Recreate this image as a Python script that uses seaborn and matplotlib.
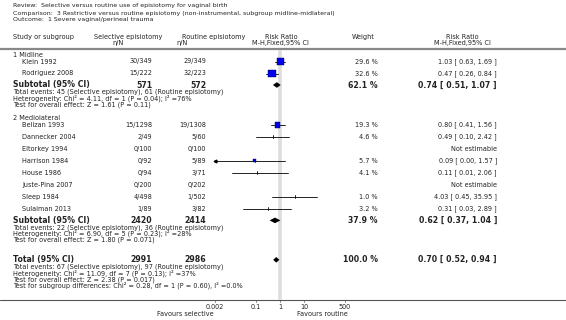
import numpy as np
import pandas as pd
import matplotlib
matplotlib.use("Agg")
import matplotlib.pyplot as plt
import seaborn as sns
from matplotlib.lines import Line2D

sns.set_theme(style="white")
plt.rcParams['font.family'] = ['DejaVu Sans']

# ---------------- data ----------------
review = "Review:  Selective versus routine use of episiotomy for vaginal birth"
comparison = "Comparison:  3 Restrictive versus routine episiotomy (non-instrumental, subgroup midline-midlateral)"
outcome = "Outcome:  1 Severe vaginal/perineal trauma"

groups = ["1 Midline", "2 Mediolateral"]
study_group = [0, 0, 1, 1, 1, 1, 1, 1, 1, 1]
studies = ["Klein 1992", "Rodriguez 2008", "Belizan 1993", "Dannecker 2004", "Eltorkey 1994",
           "Harrison 1984", "House 1986", "Juste-Pina 2007", "Sleep 1984", "Sulaiman 2013"]
sel_nN = ["30/349", "15/222", "15/1298", "2/49", "0/100", "0/92", "0/94", "0/200", "4/498", "1/89"]
rou_nN = ["29/349", "32/223", "19/1308", "5/60", "0/100", "5/89", "3/71", "0/202", "1/502", "3/82"]
nan = np.nan
weights = [29.6, 32.6, 19.3, 4.6, nan, 5.7, 4.1, nan, 1.0, 3.2]
rr = [1.03, 0.47, 0.80, 0.49, nan, 0.09, 0.11, nan, 4.03, 0.31]
ci_lo = [0.63, 0.26, 0.41, 0.10, nan, 0.00, 0.01, nan, 0.45, 0.03]
ci_hi = [1.69, 0.84, 1.56, 2.42, nan, 1.57, 2.06, nan, 35.95, 2.89]

sub_n_sel = [571, 2420]
sub_n_rou = [572, 2414]
sub_weight = [62.1, 37.9]
sub_rr = [0.74, 0.62]
sub_lo = [0.51, 0.37]
sub_hi = [1.07, 1.04]
sub_events = ["Total events: 45 (Selective episiotomy), 61 (Routine episiotomy)",
              "Total events: 22 (Selective episiotomy), 36 (Routine episiotomy)"]
sub_het = ["Heterogeneity: Chi² = 4.11, df = 1 (P = 0.04); I² =76%",
           "Heterogeneity: Chi² = 6.90, df = 5 (P = 0.23); I² =28%"]
sub_test = ["Test for overall effect: Z = 1.61 (P = 0.11)",
            "Test for overall effect: Z = 1.80 (P = 0.071)"]

tot_n_sel, tot_n_rou = 2991, 2986
tot_weight = 100.0
tot_rr, tot_lo, tot_hi = 0.70, 0.52, 0.94
tot_lines = ["Total events: 67 (Selective episiotomy), 97 (Routine episiotomy)",
             "Heterogeneity: Chi² = 11.09, df = 7 (P = 0.13); I² =37%",
             "Test for overall effect: Z = 2.38 (P = 0.017)",
             "Test for subgroup differences: Chi² = 0.28, df = 1 (P = 0.60), I² =0.0%"]

tick_vals = [0.002, 0.1, 1, 10, 500]
tick_labels = ["0.002", "0.1", "1", "10", "500"]
fav_left, fav_right = "Favours selective", "Favours routine"

# ---------------- layout ----------------
W, H = 566, 320
fig = plt.figure(figsize=(W / 100, H / 100), dpi=100)
bg = fig.add_axes([0, 0, 1, 1])
bg.set_xlim(0, W); bg.set_ylim(H, 0); bg.axis("off")

FX0, FX1 = 215, 345
fa = fig.add_axes([FX0 / W, 0, (FX1 - FX0) / W, 1])
fa.set_xscale("log"); fa.set_xlim(tick_vals[0], tick_vals[-1])
fa.set_ylim(H, 0); fa.axis("off"); fa.patch.set_alpha(0)

TXT = "#222222"
fs, fsb = 4.7, 5.6
X_L, X_S, X_SEL, X_ROU, X_W, X_RR = 13, 22, 152, 206, 378, 497

def t(x, y, s, ha="left", size=fs, weight="normal", color=TXT):
    bg.text(x, y, s, ha=ha, va="center", fontsize=size, fontweight=weight, color=color)

t(X_L, 6, review, size=4.5)
t(X_L, 13, comparison, size=4.5)
t(X_L, 20, outcome, size=4.5)
t(X_L, 37, "Study or subgroup")
t(94, 37, "Selective episiotomy")
t(182, 37, "Routine episiotomy")
t(118, 43, "n/N", ha="center")
t(182, 43, "n/N", ha="center")
t(281, 37, "Risk Ratio", ha="center")
t(280, 43, "M-H,Fixed,95% CI", ha="center")
t(363, 37, "Weight", ha="center")
t(462, 37, "Risk Ratio", ha="center")
t(462, 43, "M-H,Fixed,95% CI", ha="center")
bg.add_line(Line2D([0, W], [48.5, 48.5], color="#888888", lw=1.6))

# compute row positions
rows_y = [None] * len(studies)
sub_y = []
sum_y = []
y = 55
for g in range(len(groups)):
    t(X_L, y, groups[g])
    idx = [i for i, sg in enumerate(study_group) if sg == g]
    yy = y + 6.5
    for i in idx:
        rows_y[i] = yy
        yy += 12
    ys = yy - 12 + 11.5
    sub_y.append(ys)
    sum_y.append([ys + 7 + 6.2 * k for k in range(3)])
    y = sum_y[-1][-1] + 14
tot_y = sum_y[-1][-1] + 20
tot_line_y = [tot_y + 7 + 6.3 * k for k in range(4)]
AX_Y = 300

# null line
fa.plot([1, 1], [50, AX_Y], color="#dddddd", lw=2.6, zorder=0, solid_capstyle="butt")

# study rows
for i, s in enumerate(studies):
    yv = rows_y[i]
    t(X_S, yv, s)
    t(X_SEL, yv, sel_nN[i], ha="right")
    t(X_ROU, yv, rou_nN[i], ha="right")
    if np.isnan(rr[i]):
        t(X_RR, yv, "Not estimable", ha="right")
        continue
    t(X_W, yv, f"{weights[i]:.1f} %", ha="right")
    t(X_RR, yv, f"{rr[i]:.2f} [ {ci_lo[i]:.2f}, {ci_hi[i]:.2f} ]", ha="right")
    lo_c = max(ci_lo[i], tick_vals[0])
    fa.plot([lo_c, ci_hi[i]], [yv, yv], color="black", lw=0.6, zorder=2)
    fa.plot([rr[i], rr[i]], [yv - 1.5, yv + 1.5], color="black", lw=0.6, zorder=2)
    if ci_lo[i] < tick_vals[0]:
        fa.plot([lo_c], [yv], marker="<", ms=2, color="black", zorder=3, clip_on=False)

df = pd.DataFrame({"rr": rr, "y": rows_y, "w": weights}).dropna()
df = df[df["w"] > 5]
sns.scatterplot(data=df, x="rr", y="y", size="w", sizes=(0, 30), size_norm=(0, 35),
                marker="s", color="#0000ee", edgecolor="#000033", linewidth=0.3,
                legend=False, ax=fa, zorder=4, clip_on=False)
fa.set_xlim(tick_vals[0], tick_vals[-1]); fa.set_ylim(H, 0); fa.axis("off")

def diamond(yv, m, lo, hi, h=2.8):
    fa.fill([lo, m, hi, m], [yv, yv - h, yv, yv + h], color="black", zorder=4, lw=0)

for g in range(len(groups)):
    ys = sub_y[g]
    t(X_L, ys, "Subtotal (95% CI)", size=fsb, weight="bold")
    t(X_SEL, ys, f"{sub_n_sel[g]}", ha="right", size=fsb, weight="bold")
    t(X_ROU, ys, f"{sub_n_rou[g]}", ha="right", size=fsb, weight="bold")
    t(X_W, ys, f"{sub_weight[g]:.1f} %", ha="right", size=fsb, weight="bold")
    t(X_RR, ys, f"{sub_rr[g]:.2f} [ {sub_lo[g]:.2f}, {sub_hi[g]:.2f} ]", ha="right", size=fsb, weight="bold")
    diamond(ys, sub_rr[g], sub_lo[g], sub_hi[g])
    for yl, s in zip(sum_y[g], [sub_events[g], sub_het[g], sub_test[g]]):
        t(X_L, yl, s)

t(X_L, tot_y, "Total (95% CI)", size=fsb, weight="bold")
t(X_SEL, tot_y, f"{tot_n_sel}", ha="right", size=fsb, weight="bold")
t(X_ROU, tot_y, f"{tot_n_rou}", ha="right", size=fsb, weight="bold")
t(X_W, tot_y, f"{tot_weight:.1f} %", ha="right", size=fsb, weight="bold")
t(X_RR, tot_y, f"{tot_rr:.2f} [ {tot_lo:.2f}, {tot_hi:.2f} ]", ha="right", size=fsb, weight="bold")
diamond(tot_y, tot_rr, tot_lo, tot_hi)
for yl, s in zip(tot_line_y, tot_lines):
    t(X_L, yl, s)

# axis
bg.add_line(Line2D([0, W], [AX_Y, AX_Y], color="#555555", lw=0.8))
for v, lab in zip(tick_vals, tick_labels):
    fa.plot([v, v], [AX_Y, AX_Y + 2], color="#555555", lw=0.5, clip_on=False)
    fa.text(v, AX_Y + 7, lab, ha="center", va="center", fontsize=fs, color=TXT)
t(214, AX_Y + 14, fav_left, ha="right")
t(297, AX_Y + 14, fav_right, ha="left")

fig.savefig("out.png", dpi=100, facecolor="white")
